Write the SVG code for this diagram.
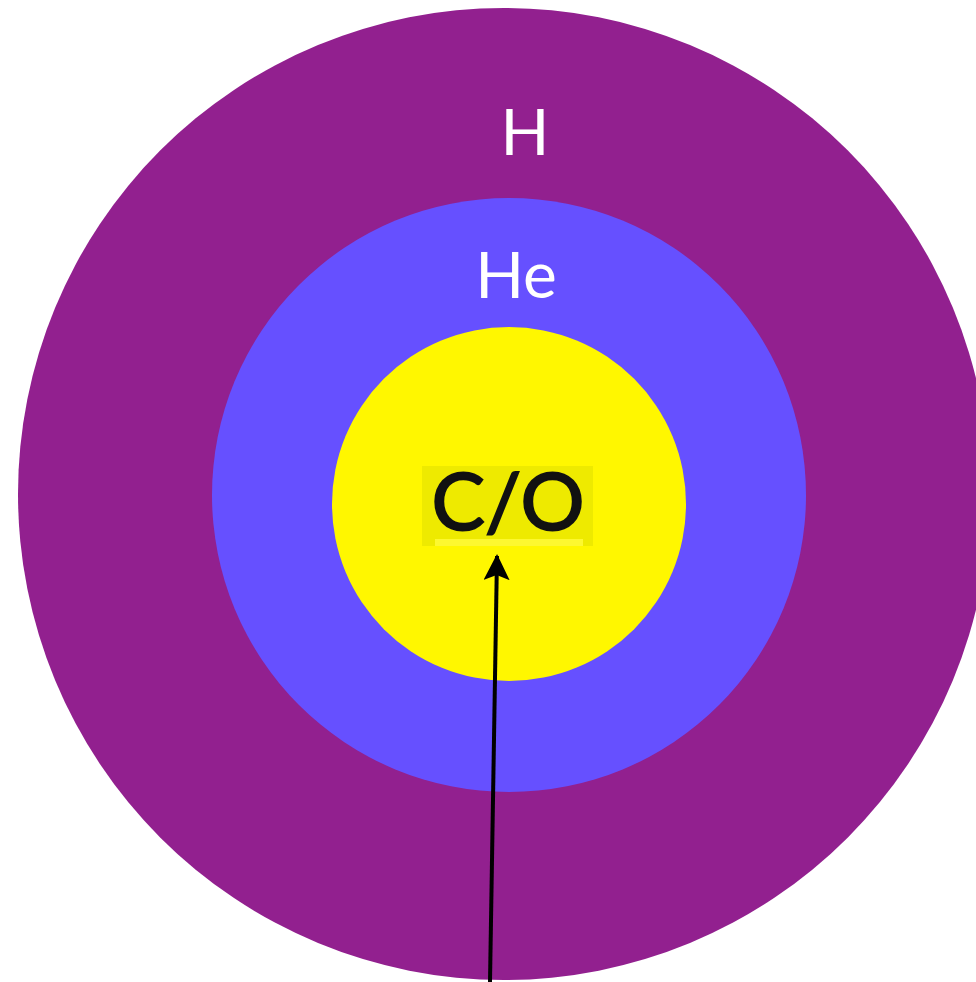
<svg xmlns="http://www.w3.org/2000/svg" width="976" height="982" viewBox="0 0 976 982">
<style>
.lbl{font-family:Lato,"Open Sans","Liberation Sans",sans-serif;text-anchor:middle}
.w{fill:#ffffff}
</style>
<defs>
<marker id="ah" markerWidth="26" markerHeight="26" refX="24" refY="13" orient="auto" markerUnits="userSpaceOnUse" viewBox="0 0 26 26">
<path d="M0,0 L26,13 L0,26 L5,13 Z" fill="#000"/>
</marker>
</defs>
<rect width="976" height="982" fill="#ffffff"/>
<g id="layer-H">
<circle cx="504" cy="494" r="486" fill="#92208f"/>
<text class="lbl w" x="525" y="155" font-size="64">H</text>
</g>
<g id="layer-He">
<circle cx="509" cy="495" r="297" fill="#6650ff"/>
<text class="lbl w" x="516" y="298" font-size="64">He</text>
</g>
<g id="layer-CO">
<circle cx="509" cy="504" r="177" fill="#fff700"/>
<rect x="422" y="466" width="171" height="80" fill="#eeea00"/>
<rect x="435" y="539" width="148" height="7" fill="#fdf830"/>
<text class="lbl" x="508" y="530" font-size="80" fill="#111" stroke="#111" stroke-width="2">C/O</text>
</g>
<g id="connectors">
<line x1="490" y1="982" x2="497" y2="556" stroke="#000" stroke-width="4" marker-end="url(#ah)"/>
</g>
</svg>
